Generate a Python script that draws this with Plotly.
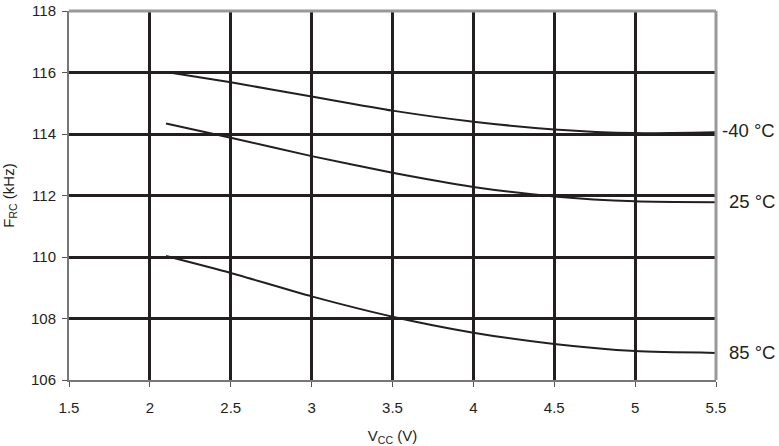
import plotly.graph_objects as go

vcc = [2.1, 2.5, 3.0, 3.5, 4.0, 4.5, 5.0, 5.5]
f_m40 = [116.02, 115.68, 115.22, 114.76, 114.40, 114.15, 114.03, 114.06]
f_25 = [114.34, 113.88, 113.28, 112.74, 112.28, 111.97, 111.81, 111.78]
f_85 = [110.03, 109.48, 108.72, 108.06, 107.54, 107.17, 106.94, 106.88]
series = [("-40 °C", f_m40), ("25 °C", f_25), ("85 °C", f_85)]
label_y = [114.12, 111.82, 106.88]

x_ticks = [1.5, 2, 2.5, 3, 3.5, 4, 4.5, 5, 5.5]
x_tick_text = ["1.5", "2", "2.5", "3", "3.5", "4", "4.5", "5", "5.5"]
y_ticks = [106, 108, 110, 112, 114, 116, 118]

dark = "#231f20"
fig = go.Figure()
for name, ys in series:
    fig.add_trace(go.Scatter(x=vcc, y=ys, mode="lines", name=name,
                             line=dict(color=dark, width=2, shape="spline", smoothing=0.6),
                             showlegend=False))

for (name, _), ly in zip(series, label_y):
    fig.add_annotation(x=1.0, y=ly, xref="paper", yref="y", text=name, showarrow=False,
                       xanchor="right", yanchor="middle", xshift=61,
                       font=dict(size=18.5, color=dark, family="Liberation Sans, Arial"))

fig.update_layout(
    width=779, height=446,
    margin=dict(l=69, r=63, t=11, b=66, autoexpand=False),
    plot_bgcolor="white", paper_bgcolor="white",
    font=dict(family="Liberation Sans, Arial", size=15, color=dark),
    xaxis=dict(range=[1.5, 5.5], tickvals=x_ticks, ticktext=x_tick_text, automargin=False,
               showgrid=True, gridcolor=dark, gridwidth=3, zeroline=False,
               showline=True, linecolor="#777777", linewidth=2,
               ticks="outside", ticklen=5, tickcolor="#555555", tickwidth=1,
               tickfont=dict(size=15), ticklabelstandoff=8,
               title=dict(text="V<sub>CC</sub> (V)", standoff=15, font=dict(size=15))),
    yaxis=dict(range=[106, 118], tickvals=y_ticks, automargin=False,
               showgrid=True, gridcolor=dark, gridwidth=3, zeroline=False,
               showline=True, linecolor="#777777", linewidth=2,
               ticks="outside", ticklen=5, tickcolor="#555555", tickwidth=1,
               tickfont=dict(size=15), ticklabelstandoff=3,
               title=dict(text="F<sub>RC</sub> (kHz)", standoff=16, font=dict(size=15))),
)
# top and right frame
fig.add_shape(type="line", xref="paper", yref="paper", x0=0, x1=1, y0=1, y1=1,
              line=dict(color="#999999", width=3))
fig.add_shape(type="line", xref="paper", yref="paper", x0=1, x1=1, y0=0, y1=1,
              line=dict(color="#999999", width=3))

fig.write_html("out.html", config={"displayModeBar": False},
               post_script="document.body.style.margin='0';document.body.style.overflow='hidden';")
